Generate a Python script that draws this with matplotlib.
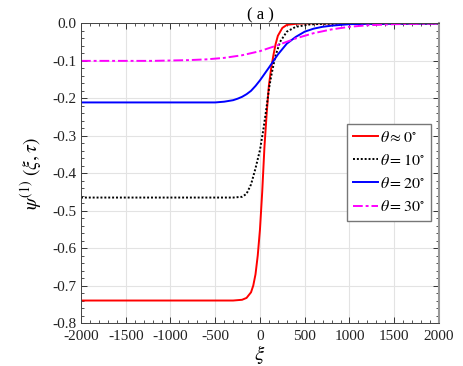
import numpy as np
import matplotlib
matplotlib.use("Agg")
import matplotlib.pyplot as plt
from matplotlib.ticker import MultipleLocator

# values
xi_red = [-2000, -300, -200, -150, -100, -75, -50, -25, 0, 25, 50, 75, 100, 125, 150, 175, 200, 250, 300, 400, 500, 2000]
psi_red = [-0.740, -0.740, -0.738, -0.733, -0.718, -0.700, -0.670, -0.620, -0.550, -0.450, -0.330, -0.240,
           -0.165, -0.120, -0.085, -0.055, -0.033, -0.012, -0.004, -0.001, 0.0, 0.0]

xi_blk = [-2000, -300, -200, -150, -100, -50, 0, 40, 70, 100, 130, 170, 225, 300, 400, 550, 700, 2000]
psi_blk = [-0.465, -0.465, -0.463, -0.455, -0.430, -0.387, -0.338, -0.280, -0.230, -0.175, -0.135, -0.089,
           -0.049, -0.022, -0.009, -0.003, -0.001, 0.0]

xi_blu = [-2000, -500, -400, -300, -250, -200, -150, -100, -50, 0, 100, 200, 300, 400, 500, 600, 700, 800, 1000, 1200, 2000]
psi_blu = [-0.211, -0.211, -0.209, -0.205, -0.201, -0.196, -0.189, -0.180, -0.167, -0.152, -0.118, -0.083,
           -0.054, -0.036, -0.022, -0.014, -0.009, -0.006, -0.002, -0.001, 0.0]

xi_mag = [-2000, -1200, -1000, -800, -600, -400, -200, 0, 100, 200, 300, 400, 500, 600, 800, 1000, 1200, 1500, 2000]
psi_mag = [-0.100, -0.100, -0.099, -0.098, -0.096, -0.092, -0.085, -0.074, -0.066, -0.058, -0.049, -0.040,
           -0.033, -0.026, -0.016, -0.009, -0.005, -0.002, 0.0]

labels = [r'$\theta \approx 0^{\circ}$', r'$\theta = 10^{\circ}$', r'$\theta = 20^{\circ}$', r'$\theta = 30^{\circ}$']

xticks = [-2000, -1500, -1000, -500, 0, 500, 1000, 1500, 2000]
xtick_labels = ['-2000', '-1500', '-1000', '-500', '0', '500', '1000', '1500', '2000']
yticks = [-0.8, -0.7, -0.6, -0.5, -0.4, -0.3, -0.2, -0.1, 0.0]
ytick_labels = ['-0.8', '-0.7', '-0.6', '-0.5', '-0.4', '-0.3', '-0.2', '-0.1', '0.0']

plt.rcParams['font.family'] = ['Liberation Serif', 'DejaVu Serif']
plt.rcParams['mathtext.fontset'] = 'stix'

fig = plt.figure(figsize=(4.63, 3.66), dpi=100)
ax = fig.add_axes([0.175, 0.1175, 0.773, 0.8185])

ax.plot(xi_red, psi_red, color='#ff0000', lw=1.4, label=labels[0])
ax.plot(xi_blk, psi_blk, color='black', lw=1.4, ls=(0, (1, 1)), label=labels[1])
ax.plot(xi_blu, psi_blu, color='#0000ff', lw=1.4, label=labels[2])
ax.plot(xi_mag, psi_mag, color='#ff00ff', lw=1.4, ls=(0, (5, 1.5, 1.5, 1.5)), label=labels[3])

ax.set_xlim(-2000, 2000)
ax.set_ylim(-0.8, 0.0)
ax.set_xticks(xticks)
ax.set_xticklabels(xtick_labels)
ax.set_yticks(yticks)
ax.set_yticklabels(ytick_labels)
ax.xaxis.set_minor_locator(MultipleLocator(100))
ax.yaxis.set_minor_locator(MultipleLocator(0.02))
ax.tick_params(which='both', direction='in', top=True, right=True, labelsize=11, colors='#333333')
ax.tick_params(which='major', length=4, width=0.7)
ax.tick_params(which='minor', length=2, width=0.6)
ax.tick_params(axis='x', pad=5)
for lab in ax.get_xticklabels() + ax.get_yticklabels():
    lab.set_color('#222222')
ax.grid(True, which='major', color='#e3e3e3', lw=0.8)
ax.set_axisbelow(True)
for s in ax.spines.values():
    s.set_color('#444444')
    s.set_linewidth(0.7)
ax.spines['right'].set_color('#999999')
ax.spines['right'].set_linewidth(1.5)

ax.set_xlabel(r'$\xi$', fontsize=15, labelpad=0)
ax.set_ylabel(r'$\psi^{(1)}\ (\xi,\tau)$', fontsize=14, labelpad=6)
ax.set_title('( a )', fontsize=12, pad=3)

leg = ax.legend(loc='upper right', bbox_to_anchor=(0.978, 0.664), fontsize=11.5, handlelength=1.6,
                handletextpad=0.15, borderpad=0.35, labelspacing=0.45, fancybox=False, framealpha=1,
                borderaxespad=0)
leg.get_frame().set_edgecolor('#777777')
leg.get_frame().set_linewidth(1.0)

fig.savefig('out.png', dpi=100)
